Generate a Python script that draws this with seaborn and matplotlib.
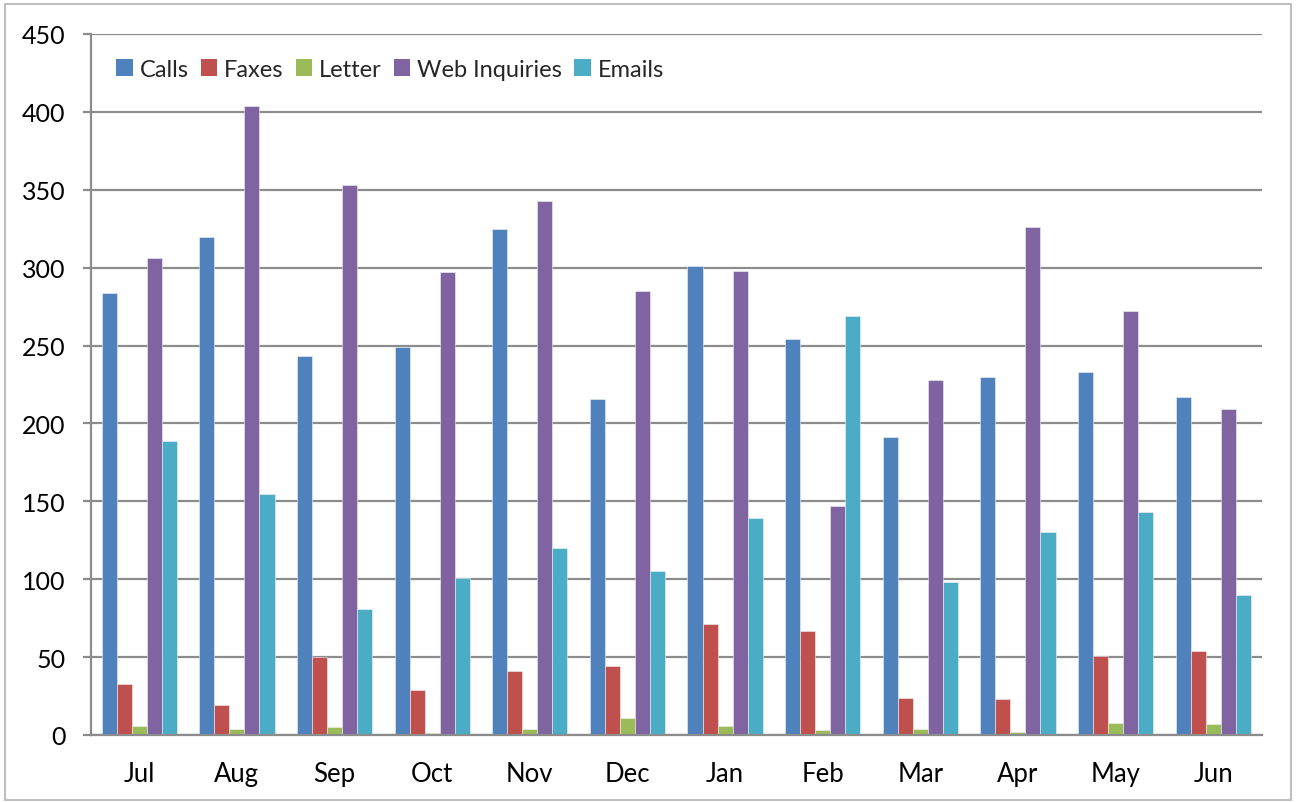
import matplotlib
matplotlib.use("Agg")
import matplotlib.pyplot as plt
from matplotlib.patches import Rectangle, Patch
import seaborn as sns
import pandas as pd

months = ["Jul", "Aug", "Sep", "Oct", "Nov", "Dec", "Jan", "Feb", "Mar", "Apr", "May", "Jun"]
calls = [284, 320, 243, 249, 325, 216, 301, 254, 191, 230, 233, 217]
faxes = [33, 19, 50, 29, 41, 44, 71, 67, 24, 23, 51, 54]
letter = [6, 4, 5, 1, 4, 11, 6, 3, 4, 2, 8, 7]
web = [306, 404, 353, 297, 343, 285, 298, 147, 228, 326, 272, 209]
emails = [189, 155, 81, 101, 120, 105, 139, 269, 98, 130, 143, 90]
series_names = ["Calls", "Faxes", "Letter", "Web Inquiries", "Emails"]
colors = ["#4F81BD", "#C0504D", "#9BBB59", "#8064A2", "#4BACC6"]
yticks = [0, 50, 100, 150, 200, 250, 300, 350, 400, 450]

rows = []
for name, vals in zip(series_names, [calls, faxes, letter, web, emails]):
    for m, v in zip(months, vals):
        rows.append({"Month": m, "Series": name, "Value": v})
df = pd.DataFrame(rows)

sns.set_theme(style="white")
plt.rcParams["font.family"] = ["Lato", "DejaVu Sans"]

fig = plt.figure(figsize=(12.96, 8.03), dpi=100)
ax = fig.add_axes([90.5 / 1296, 1 - 736 / 803, (1262 - 90.5) / 1296, (736 - 35) / 803])

sns.barplot(data=df, x="Month", y="Value", hue="Series", order=months,
            hue_order=series_names, palette=colors, width=0.77, gap=0,
            saturation=1, ax=ax, legend=False, edgecolor="#f2f2f2", linewidth=0.4)

ax.set_ylim(0, 450)
ax.set_xlim(-0.5, len(months) - 0.5)
ax.set_yticks(yticks)
ax.set_yticklabels([str(t) for t in yticks], fontsize=18)
ax.set_xticks(range(len(months)))
ax.set_xticklabels(months, fontsize=18.5)
ax.set_xlabel("")
ax.set_ylabel("")

ax.grid(axis="y", color="#8c8c8c", linewidth=1.6)
ax.set_axisbelow(True)
for s in ["top", "right"]:
    ax.spines[s].set_visible(False)
for s in ["left", "bottom"]:
    ax.spines[s].set_visible(True)
    ax.spines[s].set_color("#8c8c8c")
    ax.spines[s].set_linewidth(1.6)
ax.tick_params(axis="y", which="major", length=6, width=1.6, color="#8c8c8c",
               direction="out", left=True, pad=12, labelcolor="black")
ax.tick_params(axis="x", length=0, pad=19, labelcolor="black")

handles = [Patch(facecolor=c, edgecolor="none") for c in colors]
leg = ax.legend(handles, series_names, loc="upper left", bbox_to_anchor=(0.014, 0.978),
                ncol=5, frameon=False, fontsize=17, handlelength=0.7, handleheight=0.7,
                handletextpad=0.3, columnspacing=0.5, borderaxespad=0)

fig.patches.append(Rectangle((5 / 1296, 0.002), 1286 / 1296, 1 - 5 / 803 - 0.002,
                             transform=fig.transFigure, fill=False,
                             edgecolor="#bfbfbf", linewidth=1.5))

fig.savefig("out.png", dpi=100)
